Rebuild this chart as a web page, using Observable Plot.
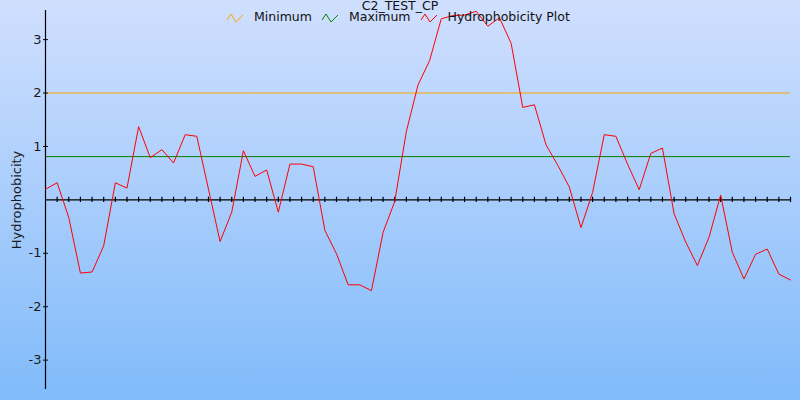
<!DOCTYPE html>
<html>
<head>
<meta charset="utf-8">
<script src="https://cdn.jsdelivr.net/npm/d3@7"></script>
<script src="https://cdn.jsdelivr.net/npm/@observablehq/plot@0.6"></script>
<style>
  html, body { margin: 0; padding: 0; }
  body { width: 800px; height: 400px; overflow: hidden; font-family: "DejaVu Sans", sans-serif; }
  #wrap { position: relative; width: 800px; height: 400px; background: linear-gradient(#d0dffe, #80bbfa); }
  #title { position: absolute; left: 0; width: 800px; top: -2px; text-align: center; font-size: 12.5px; color: #111; }
  #legend { position: absolute; top: 9px; left: 226px; font-size: 12.5px; color: #111; display: flex; align-items: center; white-space: nowrap; }
  #legend .item { display: flex; align-items: center; margin-right: 9px; }
  #legend svg { margin-right: 10px; }
</style>
</head>
<body>
<div id="wrap">
  <div id="chart"></div>
  <div id="title"></div>
  <div id="legend"></div>
</div>
<script>
const chartTitle = "C2_TEST_CP";
const yLabel = "Hydrophobicity";
const seriesNames = ["Minimum", "Maximum", "Hydrophobicity Plot"];
const seriesColors = ["#ffa500", "#008000", "#ff0000"];
const minimumValue = 2;
const maximumValue = 0.81;
const yTickValues = [-3, -2, -1, 1, 2, 3];
const positions = d3.range(0, 65);
const hydrophobicity = [
  0.20, 0.32, -0.33, -1.37, -1.35, -0.86, 0.32, 0.22, 1.37, 0.79,
  0.94, 0.69, 1.22, 1.19, 0.20, -0.78, -0.23, 0.92, 0.44, 0.56,
  -0.23, 0.67, 0.67, 0.62, -0.57, -1.01, -1.59, -1.59, -1.70, -0.61,
  -0.03, 1.28, 2.15, 2.61, 3.39, 3.45, 3.46, 3.53, 3.25, 3.41,
  2.93, 1.73, 1.78, 1.03, 0.65, 0.24, -0.52, 0.14, 1.22, 1.19,
  0.67, 0.19, 0.87, 0.97, -0.26, -0.79, -1.23, -0.70, 0.09, -0.98,
  -1.48, -1.02, -0.92, -1.39, -1.50
];

const data = positions.map((p, i) => ({pos: p, value: hydrophobicity[i]}));
const xTicks = positions.slice(1);

const plot = Plot.plot({
  width: 800,
  height: 400,
  marginLeft: 45,
  marginRight: 10,
  marginTop: 10,
  marginBottom: 11,
  style: {background: "transparent", fontFamily: "DejaVu Sans, sans-serif", fontSize: "13px", color: "#1a1a1a", overflow: "visible"},
  x: {domain: [0, 64], axis: null},
  y: {domain: [-3.55, 3.545]},
  marks: [
    Plot.ruleY([minimumValue], {stroke: seriesColors[0], strokeWidth: 1}),
    Plot.ruleY([maximumValue], {stroke: seriesColors[1], strokeWidth: 1}),
    Plot.ruleY([0], {stroke: "black", strokeWidth: 1.2}),
    Plot.ruleX(xTicks, {y1: -0.05, y2: 0.05, stroke: "black", strokeWidth: 1.2}),
    Plot.ruleX([0], {stroke: "black", strokeWidth: 1.2}),
    Plot.ruleY(yTickValues, {x1: -0.17, x2: 0.25, stroke: "black", strokeWidth: 1}),
    Plot.axisY({ticks: yTickValues, tickFormat: d => String(d), tickSize: 0, tickPadding: 4, label: yLabel, labelAnchor: "center", labelArrow: "none", labelOffset: 34, fontSize: 13}),
    Plot.line(data, {x: "pos", y: "value", stroke: seriesColors[2], strokeWidth: 1})
  ]
});
document.getElementById("chart").appendChild(plot);
document.getElementById("title").textContent = chartTitle;

const legend = document.getElementById("legend");
seriesNames.forEach((name, i) => {
  const item = document.createElement("div");
  item.className = "item";
  item.innerHTML = `<svg width="18" height="12" viewBox="0 0 18 12"><polyline points="1,9 5,3 10,11 17,4" fill="none" stroke="${seriesColors[i]}" stroke-width="1"/></svg><span>${name}</span>`;
  legend.appendChild(item);
});
</script>
</body>
</html>
